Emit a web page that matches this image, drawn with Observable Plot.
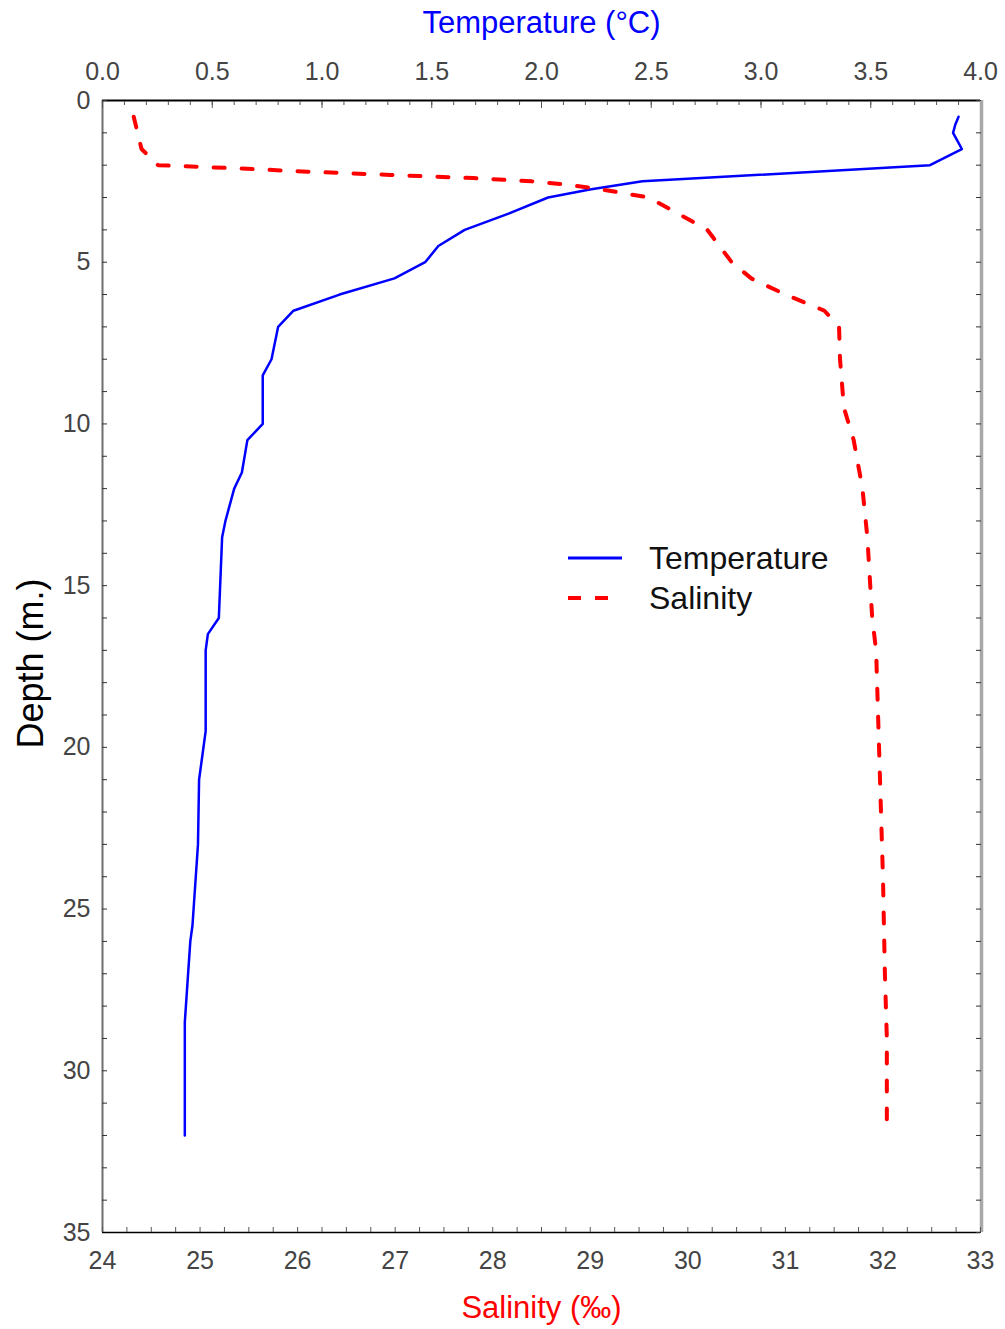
<!DOCTYPE html>
<html>
<head>
<meta charset="utf-8">
<script src="https://cdn.jsdelivr.net/npm/d3@7"></script>
<script src="https://cdn.jsdelivr.net/npm/@observablehq/plot@0.6"></script>
<style>
  body { margin: 0; background: #fff; font-family: "Liberation Sans", Arial, sans-serif; }
  #chart { position: relative; width: 1005px; height: 1329px; background: #fff; }
  #chart > svg { position: absolute; left: 0; top: 0; }
</style>
</head>
<body>
<div id="chart"></div>
<script>
// ---- Data ----
const tempDepth = [0.5, 0.75, 1.0, 1.25, 1.5, 2.0, 2.5, 2.75, 3.0, 3.5, 4.0, 4.5, 5.0, 5.5, 6.0, 6.5, 7.0, 8.0, 8.5, 10.0, 10.5, 11.5, 12.0, 13.0, 13.5, 16.0, 16.5, 17.0, 19.5, 20.5, 21.0, 23.0, 25.5, 26.0, 27.5, 28.5, 32.0];
const tempValue = [3.90, 3.885, 3.875, 3.895, 3.915, 3.77, 2.46, 2.22, 2.03, 1.85, 1.65, 1.53, 1.47, 1.33, 1.08, 0.87, 0.80, 0.77, 0.73, 0.73, 0.66, 0.635, 0.60, 0.56, 0.545, 0.53, 0.48, 0.47, 0.47, 0.45, 0.44, 0.435, 0.41, 0.40, 0.385, 0.375, 0.375];

const salDepth = [0.5, 1.5, 2.0, 2.1, 2.2, 2.3, 2.4, 2.5, 2.6, 2.75, 3.0, 3.5, 4.0, 5.0, 5.5, 6.0, 6.5, 7.0, 8.0, 9.5, 10.5, 12.0, 13.5, 15.0, 16.0, 17.0, 20.0, 21.0, 24.0, 27.0, 29.0, 31.5];
const salValue = [24.32, 24.40, 24.57, 25.4, 26.1, 26.95, 27.8, 28.4, 28.75, 29.12, 29.6, 29.9, 30.2, 30.45, 30.65, 31.0, 31.4, 31.55, 31.56, 31.6, 31.7, 31.79, 31.84, 31.87, 31.89, 31.93, 31.96, 31.97, 32.0, 32.02, 32.04, 32.04];

const tempTicks = [0, 0.5, 1, 1.5, 2, 2.5, 3, 3.5, 4];
const tempTickLabels = ["0.0", "0.5", "1.0", "1.5", "2.0", "2.5", "3.0", "3.5", "4.0"];
const salTicks = [24, 25, 26, 27, 28, 29, 30, 31, 32, 33];
const salTickLabels = ["24", "25", "26", "27", "28", "29", "30", "31", "32", "33"];
const depthTicks = [0, 5, 10, 15, 20, 25, 30, 35];
const depthTickLabels = ["0", "5", "10", "15", "20", "25", "30", "35"];

const tempMinor = d3.range(0, 41).map(i => i / 10);
const salMinor = d3.range(0, 37).map(i => 24 + i / 4);
const depthMinor = d3.range(0, 36);

const tempData = tempDepth.map((d, i) => ({depth: d, temp: tempValue[i]}));
const salData = salDepth.map((d, i) => ({depth: d, sal: salValue[i]}));

const FONT = "'Liberation Sans', Arial, sans-serif";
const common = {
  width: 1005, height: 1329,
  marginTop: 100, marginRight: 25, marginBottom: 97, marginLeft: 102,
  y: {domain: [0, 35], reverse: true, axis: null},
  style: {background: "transparent", fontFamily: FONT, overflow: "visible"}
};

// Temperature layer (top axis, left axis)
const tempPlot = Plot.plot({
  ...common,
  x: {domain: [0, 4], axis: null},
  marks: [
    Plot.ruleX([0], {stroke: "#6e6e6e", strokeWidth: 2}),
    Plot.ruleY([0], {stroke: "#000", strokeWidth: 2}),
    Plot.axisX(tempMinor, {anchor: "top", tickSize: -4, text: null, stroke: "#555", label: null}),
    Plot.axisX(tempTicks, {anchor: "top", tickSize: -7, text: null, stroke: "#555", label: null}),
    Plot.text(tempTicks, {x: d => d, text: (d, i) => tempTickLabels[i], frameAnchor: "top", lineAnchor: "middle", dy: -29, fontSize: 25, fill: "#444"}),
    Plot.axisY(depthMinor, {anchor: "left", tickSize: -5, text: null, stroke: "#333", label: null}),
    Plot.text(depthTicks, {y: d => d, text: (d, i) => depthTickLabels[i], frameAnchor: "left", textAnchor: "end", lineAnchor: "middle", dx: -12, fontSize: 25, fill: "#444"}),
    Plot.line(tempData, {x: "temp", y: "depth", stroke: "#0000ff", strokeWidth: 2.5, curve: "linear"}),
    Plot.text(["Temperature (°C)"], {frameAnchor: "top", lineAnchor: "middle", textAnchor: "middle", dy: -77, fill: "#0000ff", fontSize: 31}),
    Plot.text(["Depth (m.)"], {frameAnchor: "left", textAnchor: "middle", lineAnchor: "middle", dx: -71, dy: -3, rotate: -90, fill: "#000", fontSize: 36})
  ]
});

// Salinity layer (bottom axis, right axis)
const salPlot = Plot.plot({
  ...common,
  x: {domain: [24, 33], axis: null},
  marks: [
    Plot.ruleX([33], {stroke: "#a8a8a8", strokeWidth: 3.5, dx: 1}),
    Plot.ruleY([35], {stroke: "#000", strokeWidth: 1.5}),
    Plot.axisX(salMinor, {anchor: "bottom", tickSize: -5, text: null, stroke: "#555", label: null}),
    Plot.text(salTicks, {x: d => d, text: (d, i) => salTickLabels[i], frameAnchor: "bottom", lineAnchor: "middle", dy: 28, fontSize: 25, fill: "#444"}),
    Plot.axisY(depthMinor, {anchor: "right", tickSize: -5, text: null, stroke: "#333", label: null}),
    Plot.line(salData, {x: "sal", y: "depth", stroke: "#ff0000", strokeWidth: 4, strokeDasharray: "11,17", curve: "linear"}),
    Plot.text(["Salinity (‰)"], {frameAnchor: "bottom", lineAnchor: "middle", textAnchor: "middle", dy: 76, fill: "#ff0000", fontSize: 31})
  ]
});

const chart = document.getElementById("chart");
chart.appendChild(tempPlot);
chart.appendChild(salPlot);

// Legend (overlay)
const legendSeries = [
  {name: "Temperature", color: "#0000ff", dash: null, width: 3},
  {name: "Salinity", color: "#ff0000", dash: "13,14", width: 4}
];
const leg = d3.select(chart).append("svg")
  .attr("width", 1005).attr("height", 1329)
  .style("position", "absolute").style("left", 0).style("top", 0)
  .style("font-family", FONT);
const rows = leg.selectAll("g").data(legendSeries).join("g")
  .attr("transform", (d, i) => `translate(568, ${558 + i * 40})`);
rows.append("line").attr("x1", 0).attr("x2", 54).attr("y1", 0).attr("y2", 0)
  .attr("stroke", d => d.color).attr("stroke-width", d => d.width)
  .attr("stroke-dasharray", d => d.dash);
rows.append("text").attr("x", 81).attr("y", 11).attr("font-size", 32).attr("fill", "#111")
  .text(d => d.name);
</script>
</body>
</html>
